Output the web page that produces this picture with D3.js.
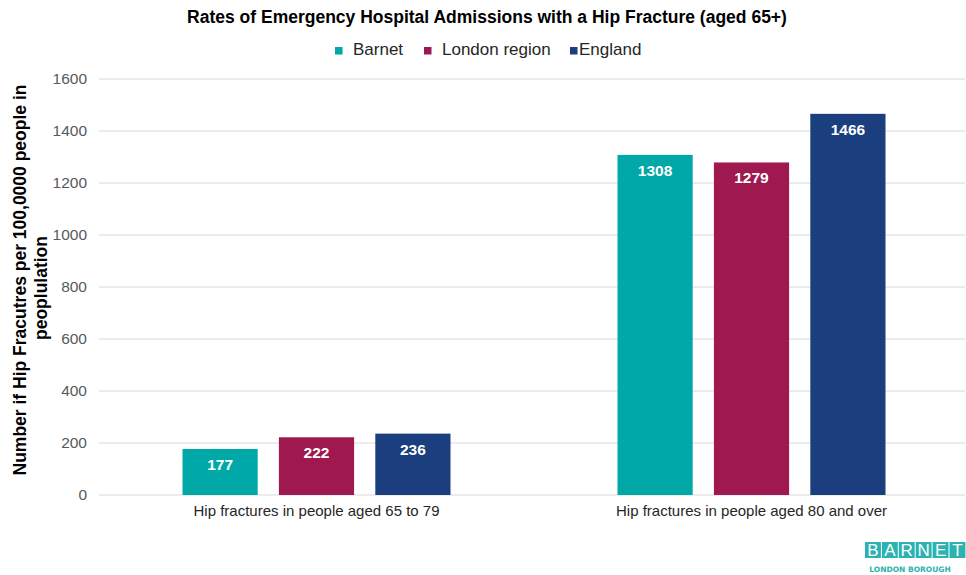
<!DOCTYPE html>
<html>
<head>
<meta charset="utf-8">
<script src="https://cdn.jsdelivr.net/npm/d3@7"></script>
<style>
  html, body { margin: 0; padding: 0; background: #fff; }
  svg { display: block; font-family: "Liberation Sans", Arial, sans-serif; }
</style>
</head>
<body>
<svg id="chart" width="966" height="575"></svg>
<script>
// Categories, series and values
const categories = ["Hip fractures in people aged 65 to 79", "Hip fractures in people aged 80 and over"];
const seriesNames = ["Barnet", "London region", "England"];
const barnet = [177, 1308];
const london = [222, 1279];
const england = [236, 1466];
const yTicks = [0, 200, 400, 600, 800, 1000, 1200, 1400, 1600];
const colors = ["#00a8a8", "#a01850", "#1b3f7e"];

const values = [barnet, london, england];
const rows = categories.map((c, i) => ({
  category: c,
  bars: seriesNames.map((s, j) => ({ series: s, value: values[j][i], color: colors[j] }))
}));

const svg = d3.select("#chart");
const plot = { left: 99, right: 969, top: 79, bottom: 495 };

const x0 = d3.scaleBand().domain(categories).range([plot.left, plot.right]).padding(0);
const groupSpan = 268;
const x1 = d3.scaleBand().domain(seriesNames)
  .range([(x0.bandwidth() - groupSpan) / 2, (x0.bandwidth() + groupSpan) / 2])
  .paddingInner(0.22);
const y = d3.scaleLinear().domain([0, 1600]).range([plot.bottom, plot.top]);

// Gridlines
svg.append("g")
  .selectAll("line")
  .data(yTicks)
  .join("line")
  .attr("x1", plot.left).attr("x2", 965)
  .attr("y1", d => y(d)).attr("y2", d => y(d))
  .attr("stroke", "#d9d9d9").attr("stroke-width", 1);

// Y axis labels
const yAxis = d3.axisLeft(y).tickValues(yTicks).tickFormat(d3.format("d")).tickSize(0).tickPadding(0);
const yg = svg.append("g").attr("transform", `translate(${plot.left - 12},0)`).call(yAxis);
yg.select(".domain").remove();
yg.selectAll("text")
  .attr("font-size", 15.5).attr("fill", "#595959")
  .attr("font-family", "'Liberation Sans', Arial, sans-serif");

// X axis labels
const xAxis = d3.axisBottom(x0).tickSize(0).tickPadding(0);
const xg = svg.append("g").attr("transform", `translate(0,${plot.bottom + 10})`).call(xAxis);
xg.select(".domain").remove();
xg.selectAll("text")
  .attr("font-size", 15).attr("fill", "#262626")
  .attr("font-family", "'Liberation Sans', Arial, sans-serif");

// Bars
const groups = svg.append("g").selectAll("g")
  .data(rows).join("g")
  .attr("transform", d => `translate(${x0(d.category)},0)`);

groups.selectAll("rect")
  .data(d => d.bars).join("rect")
  .attr("x", d => x1(d.series))
  .attr("width", x1.bandwidth())
  .attr("y", d => y(d.value))
  .attr("height", d => y(0) - y(d.value))
  .attr("fill", d => d.color);

groups.selectAll("text")
  .data(d => d.bars).join("text")
  .attr("x", d => x1(d.series) + x1.bandwidth() / 2)
  .attr("y", d => y(d.value) + 21)
  .attr("text-anchor", "middle")
  .attr("font-size", 15.5).attr("font-weight", "bold").attr("fill", "#ffffff")
  .text(d => d.value);

// Title
svg.append("text")
  .attr("x", 487).attr("y", 23)
  .attr("text-anchor", "middle")
  .attr("font-size", 17.5).attr("font-weight", "bold").attr("fill", "#000")
  .text("Rates of Emergency Hospital Admissions with a Hip Fracture (aged 65+)");

// Legend
const legendItems = [
  { name: seriesNames[0], color: colors[0], sx: 335, tx: 353 },
  { name: seriesNames[1], color: colors[1], sx: 424, tx: 442 },
  { name: seriesNames[2], color: colors[2], sx: 570, tx: 579 }
];
const lg = svg.append("g");
lg.selectAll("rect").data(legendItems).join("rect")
  .attr("x", d => d.sx).attr("y", 47).attr("width", 7.5).attr("height", 7.5)
  .attr("fill", d => d.color);
lg.selectAll("text").data(legendItems).join("text")
  .attr("x", d => d.tx).attr("y", 55)
  .attr("font-size", 17).attr("fill", "#262626")
  .text(d => d.name);

// Y axis title
const yt = svg.append("text")
  .attr("transform", "translate(0,284) rotate(-90)")
  .attr("text-anchor", "middle")
  .attr("font-size", 17.5).attr("font-weight", "bold").attr("fill", "#000");
yt.append("tspan").attr("x", 4).attr("y", 26).text("Number if Hip Fracutres per 100,0000 people in");
yt.append("tspan").attr("x", -4).attr("y", 47).text("peoplulation");

// Borough logo
const logo = svg.append("g").attr("transform", "translate(865,542)");
const letters = ["B", "A", "R", "N", "E", "T"];
const lw = 16.9;
logo.selectAll("rect").data(letters).join("rect")
  .attr("x", (d, i) => i * lw).attr("y", 0)
  .attr("width", lw - 1).attr("height", 16)
  .attr("fill", "#2ab3b1");
logo.selectAll("text.l").data(letters).join("text")
  .attr("class", "l")
  .attr("x", (d, i) => i * lw + (lw - 1) / 2).attr("y", 14)
  .attr("text-anchor", "middle")
  .attr("font-size", 17).attr("fill", "#fff")
  .attr("font-family", "'Liberation Sans', Arial, sans-serif")
  .text(d => d);
logo.append("text")
  .attr("x", 45).attr("y", 30)
  .attr("text-anchor", "middle")
  .attr("font-size", 7.5).attr("font-weight", "bold").attr("fill", "#2ab3b1")
  .attr("font-family", "'DejaVu Sans', sans-serif")
  .text("LONDON BOROUGH");
</script>
</body>
</html>
